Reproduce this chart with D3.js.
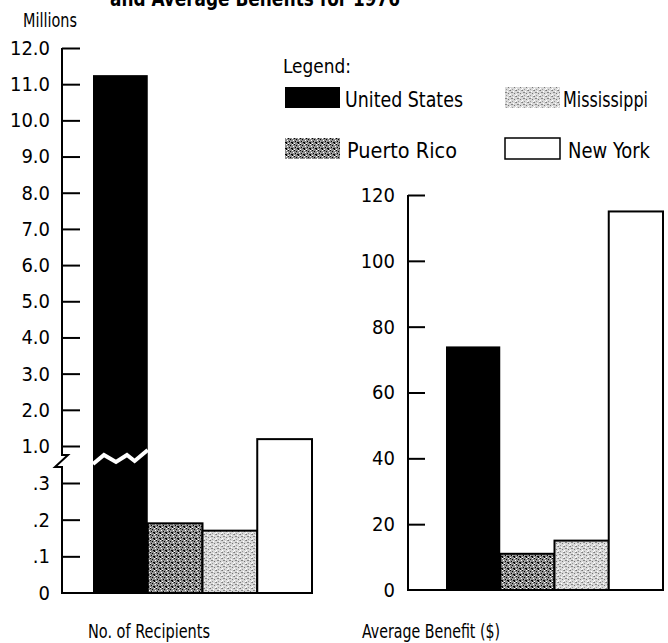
<!DOCTYPE html>
<html>
<head>
<meta charset="utf-8">
<script src="https://cdn.jsdelivr.net/npm/d3@7"></script>
<style>
  html, body { margin: 0; padding: 0; background: #fff; }
  svg { display: block; }
  text { font-family: "Liberation Sans Narrow", "DejaVu Sans Condensed", "Arial Narrow", sans-serif; fill: #000; }
</style>
</head>
<body>
<script>
// ---------- data ----------
const title = "and Average Benefits for 1976";
const regions = ["United States", "Puerto Rico", "Mississippi", "New York"];
const recipientsMillions = [11.25, 0.19, 0.17, 1.19];
const averageBenefit = [74, 11, 15, 115];
const leftUpperTicks = [1, 2, 3, 4, 5, 6, 7, 8, 9, 10, 11, 12];
const leftUpperLabels = ["1.0","2.0","3.0","4.0","5.0","6.0","7.0","8.0","9.0","10.0","11.0","12.0"];
const leftLowerTicks = [0, 0.1, 0.2, 0.3];
const leftLowerLabels = ["0", ".1", ".2", ".3"];
const rightTicks = [0, 20, 40, 60, 80, 100, 120];
const leftUnit = "Millions";
const leftXLabel = "No. of Recipients";
const rightXLabel = "Average Benefit ($)";
const legendTitle = "Legend:";

// ---------- setup ----------
const W = 668, H = 643;
const svg = d3.select("body").append("svg").attr("width", W).attr("height", H);
const defs = svg.append("defs");

// condensed-type look: squeeze text to the measured width of the source lettering
function squeeze(sel, len) {
  return sel.attr("textLength", len).attr("lengthAdjust", "spacingAndGlyphs");
}

// textures
function makePattern(id, bg, dots) {
  const p = defs.append("pattern").attr("id", id).attr("patternUnits", "userSpaceOnUse")
    .attr("width", 6).attr("height", 6);
  p.append("rect").attr("width", 6).attr("height", 6).attr("fill", bg);
  dots.forEach(d => p.append("rect").attr("x", d[0]).attr("y", d[1]).attr("width", d[2]).attr("height", d[3]).attr("fill", d[4]));
}
makePattern("patPR", "#8c8c8c", [[0,0,1,1,"#000"],[2,1,1,1,"#000"],[4,0,1,1,"#fff"],[1,3,1,1,"#000"],[3,4,2,1,"#000"],[5,2,1,1,"#fff"],[0,5,1,1,"#fff"],[2,3,1,1,"#bbb"],[4,5,1,1,"#000"]]);
makePattern("patMS", "#d8d8d8", [[0,0,1,1,"#777"],[3,1,1,1,"#fff"],[1,2,2,1,"#888"],[4,3,1,1,"#777"],[0,4,1,1,"#fff"],[2,5,1,1,"#999"],[5,5,1,1,"#fff"],[5,0,1,1,"#999"]]);
const fills = ["#000", "url(#patPR)", "url(#patMS)", "#fff"];

// ---------- title (cut at top edge, as in the source) ----------
squeeze(svg.append("text").attr("x", 255).attr("y", 6).attr("text-anchor", "middle")
  .style("font-weight", "bold").style("font-size", "22px").text(title), 290);

// ---------- left chart ----------
const xL = d3.scaleBand().domain(regions).range([93, 312]).padding(0);
const yUp = d3.scaleLinear().domain([1, 12]).range([446, 48]);
const yLo = d3.scaleLinear().domain([0, 0.3]).range([593, 483]);
const axisXL = 62;
const breakY = 458;
function yLeft(v) { return v >= 0.6 ? yUp(v) : yLo(v); }

const gL = svg.append("g");
gL.selectAll("rect.bar").data(regions).join("rect")
  .attr("x", d => xL(d))
  .attr("y", (d, i) => yLeft(recipientsMillions[i]))
  .attr("width", xL.bandwidth())
  .attr("height", (d, i) => yLo(0) - yLeft(recipientsMillions[i]))
  .attr("fill", (d, i) => fills[i])
  .attr("stroke", "#000")
  .attr("stroke-width", (d, i) => i === 0 ? 0 : 2);

// break zigzag through the US bar
const bx0 = xL(regions[0]), bw = xL.bandwidth();
const zz = [[0, 6], [0.2, -3], [0.42, 4], [0.62, -3], [0.76, 3], [1.0, -8]];
gL.append("path")
  .attr("d", d3.line()(zz.map(p => [bx0 + p[0] * bw, breakY + p[1]])))
  .attr("fill", "none").attr("stroke", "#fff").attr("stroke-width", 4);

const axUp = d3.axisLeft(yUp).tickValues(leftUpperTicks)
  .tickFormat((d, i) => leftUpperLabels[i]).tickSizeInner(-18).tickSizeOuter(0).tickPadding(12);
const gAU = gL.append("g").attr("transform", `translate(${axisXL},0)`).call(axUp);
const axLo = d3.axisLeft(yLo).tickValues(leftLowerTicks)
  .tickFormat((d, i) => leftLowerLabels[i]).tickSizeInner(-18).tickSizeOuter(0).tickPadding(12);
const gAL = gL.append("g").attr("transform", `translate(${axisXL},0)`).call(axLo);
[gAU, gAL].forEach(g => {
  g.select(".domain").remove();
  g.selectAll(".tick line").attr("stroke", "#000").attr("stroke-width", 2);
  g.selectAll(".tick text").style("font-size", "20px").attr("fill", "#000");
});
gAL.selectAll(".tick").filter(d => d === 0).select("line").remove();

gL.append("path")
  .attr("d", `M${axisXL},${yUp(12)} V${breakY - 3} L${axisXL + 6},${breakY - 3} L${axisXL - 7},${breakY + 9} L${axisXL},${breakY + 9} V${yLo(0)} H${xL.range()[1]}`)
  .attr("fill", "none").attr("stroke", "#000").attr("stroke-width", 2);

squeeze(svg.append("text").attr("x", 50).attr("y", 27).attr("text-anchor", "middle")
  .style("font-size", "20px").text(leftUnit), 54);
squeeze(svg.append("text").attr("x", 149).attr("y", 638).attr("text-anchor", "middle")
  .style("font-size", "20px").text(leftXLabel), 122);

// ---------- right chart ----------
const xR = d3.scaleBand().domain(regions).range([446, 663]).padding(0);
const yR = d3.scaleLinear().domain([0, 120]).range([590, 195]);
const axisXR = 408;
const gR = svg.append("g");
gR.selectAll("rect.bar").data(regions).join("rect")
  .attr("x", d => xR(d))
  .attr("y", (d, i) => yR(averageBenefit[i]))
  .attr("width", xR.bandwidth())
  .attr("height", (d, i) => yR(0) - yR(averageBenefit[i]))
  .attr("fill", (d, i) => fills[i])
  .attr("stroke", "#000")
  .attr("stroke-width", (d, i) => i === 0 ? 0 : 2);

const axR = d3.axisLeft(yR).tickValues(rightTicks).tickSizeInner(-17).tickSizeOuter(0).tickPadding(13);
const gAR = gR.append("g").attr("transform", `translate(${axisXR},0)`).call(axR);
gAR.select(".domain").remove();
gAR.selectAll(".tick line").attr("stroke", "#000").attr("stroke-width", 2);
gAR.selectAll(".tick text").style("font-size", "20px").attr("fill", "#000");
gAR.selectAll(".tick").filter(d => d === 0).select("line").remove();
gR.append("path")
  .attr("d", `M${axisXR},${yR(120)} V${yR(0)} H${xR.range()[1]}`)
  .attr("fill", "none").attr("stroke", "#000").attr("stroke-width", 2);

squeeze(svg.append("text").attr("x", 431).attr("y", 638).attr("text-anchor", "middle")
  .style("font-size", "20px").text(rightXLabel), 138);

// ---------- legend ----------
const lg = svg.append("g");
squeeze(lg.append("text").attr("x", 283).attr("y", 73).style("font-size", "20px").text(legendTitle), 68);
const legendPos = [[285, 87], [285, 138], [505, 87], [505, 138]];
const legendTextW = [118, 110, 85, 82];
const legendTextX = [345, 347, 563, 568];
regions.forEach((r, i) => {
  const [lx, ly] = legendPos[i];
  lg.append("rect").attr("x", lx).attr("y", ly).attr("width", 55).attr("height", 21)
    .attr("fill", fills[i]).attr("stroke", i === 3 ? "#000" : "none").attr("stroke-width", 1.5);
  squeeze(lg.append("text").attr("x", legendTextX[i]).attr("y", ly + 20).style("font-size", "21px").text(r), legendTextW[i]);
});
</script>
</body>
</html>
